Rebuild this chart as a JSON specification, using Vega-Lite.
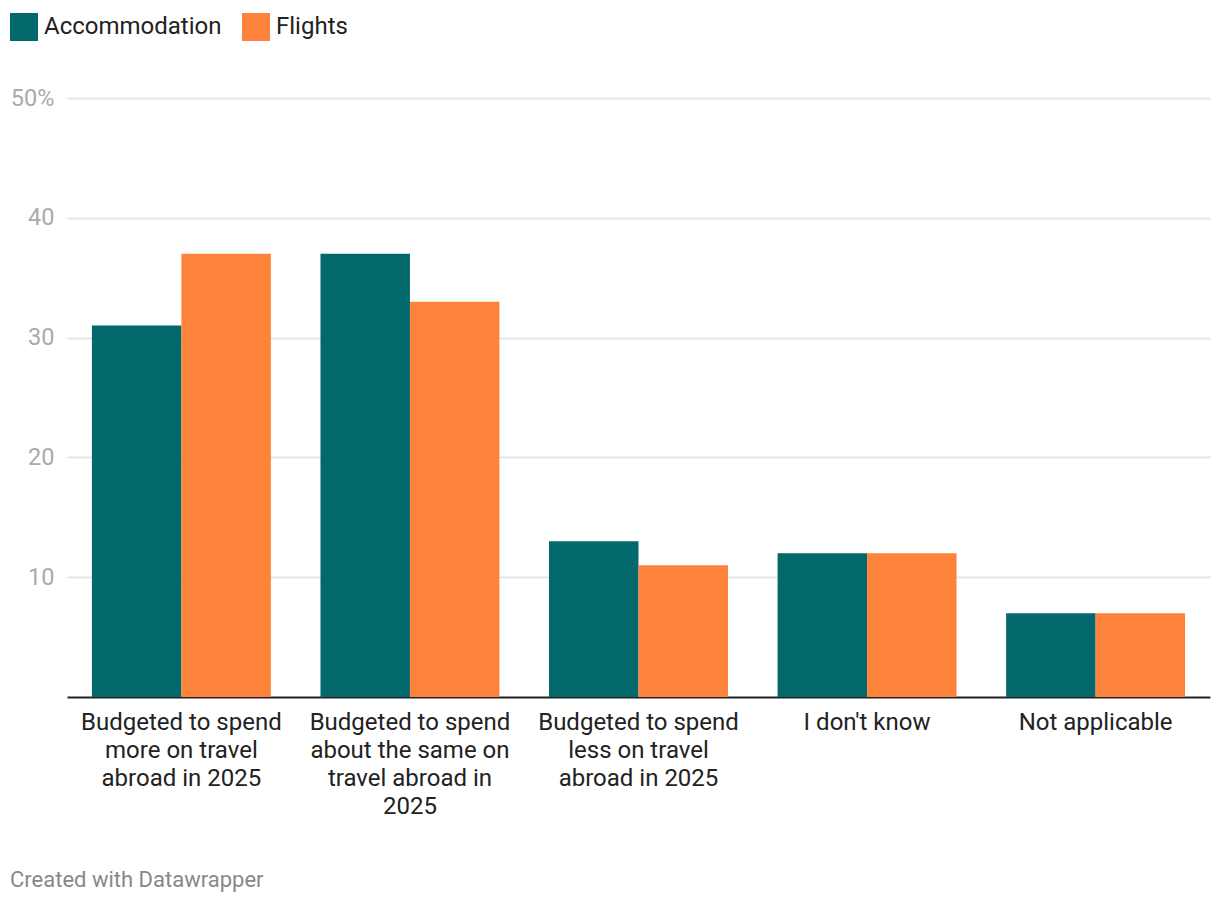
{
  "$schema": "https://vega.github.io/schema/vega-lite/v6.json",
  "width": 1143,
  "height": 599,
  "autosize": {"type": "none"},
  "padding": {"left": 67, "top": 98, "right": 10, "bottom": 207},
  "background": "#ffffff",
  "config": {
    "font": "Roboto",
    "view": {"stroke": null}
  },
  "title": {
    "text": "Created with Datawrapper",
    "orient": "bottom",
    "anchor": "start",
    "frame": "group",
    "dx": -57,
    "offset": 52,
    "font": "Roboto",
    "fontSize": 22,
    "fontWeight": "normal",
    "color": "#888888"
  },
  "data": {
    "values": [
      {"category": "Budgeted to spend more on travel abroad in 2025", "type": "Accommodation", "value": 31},
      {"category": "Budgeted to spend more on travel abroad in 2025", "type": "Flights", "value": 37},
      {"category": "Budgeted to spend about the same on travel abroad in 2025", "type": "Accommodation", "value": 37},
      {"category": "Budgeted to spend about the same on travel abroad in 2025", "type": "Flights", "value": 33},
      {"category": "Budgeted to spend less on travel abroad in 2025", "type": "Accommodation", "value": 13},
      {"category": "Budgeted to spend less on travel abroad in 2025", "type": "Flights", "value": 11},
      {"category": "I don't know", "type": "Accommodation", "value": 12},
      {"category": "I don't know", "type": "Flights", "value": 12},
      {"category": "Not applicable", "type": "Accommodation", "value": 7},
      {"category": "Not applicable", "type": "Flights", "value": 7}
    ]
  },
  "mark": {"type": "bar"},
  "encoding": {
    "x": {
      "field": "category",
      "type": "nominal",
      "sort": null,
      "scale": {"paddingInner": 0.217, "paddingOuter": 0.109},
      "axis": {
        "title": null,
        "labelAngle": 0,
        "labelFontSize": 24,
        "labelColor": "#222222",
        "labelPadding": 13,
        "labelBaseline": "top",
        "labelLineHeight": 28,
        "labelLimit": 400,
        "ticks": false,
        "domainColor": "#222222",
        "domainWidth": 2,
        "labelExpr": "datum.label == 'Budgeted to spend more on travel abroad in 2025' ? ['Budgeted to spend','more on travel','abroad in 2025'] : datum.label == 'Budgeted to spend about the same on travel abroad in 2025' ? ['Budgeted to spend','about the same on','travel abroad in','2025'] : datum.label == 'Budgeted to spend less on travel abroad in 2025' ? ['Budgeted to spend','less on travel','abroad in 2025'] : datum.label"
      }
    },
    "xOffset": {"field": "type", "type": "nominal", "scale": {"paddingInner": 0, "paddingOuter": 0}},
    "y": {
      "field": "value",
      "type": "quantitative",
      "scale": {"domain": [0, 50], "nice": false},
      "axis": {
        "title": null,
        "values": [10, 20, 30, 40, 50],
        "labelExpr": "datum.value == 50 ? '50%' : datum.label",
        "labelFontSize": 23.5,
        "labelColor": "#aaaaaa",
        "labelPadding": 13,
        "ticks": false,
        "domain": false,
        "gridColor": "#e5e5e5",
        "gridWidth": 2
      }
    },
    "color": {
      "field": "type",
      "type": "nominal",
      "scale": {"domain": ["Accommodation", "Flights"], "range": ["#03686c", "#fd823a"]},
      "legend": {
        "title": null,
        "orient": "none",
        "legendX": -57,
        "legendY": -85,
        "direction": "horizontal",
        "symbolType": "square",
        "symbolSize": 784,
        "symbolStrokeWidth": 0,
        "symbolOpacity": 1,
        "labelFontSize": 24,
        "labelColor": "#222222",
        "labelOffset": 6,
        "labelLimit": 400,
        "columnPadding": 20
      }
    }
  }
}
